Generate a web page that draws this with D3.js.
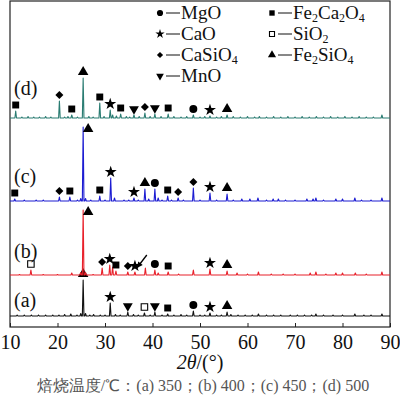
<!DOCTYPE html>
<html>
<head>
<meta charset="utf-8">
<script src="https://cdn.jsdelivr.net/npm/d3@7"></script>
<style>
  body { margin: 0; background: #fff; }
  svg { display: block; }
  text { font-family: "Liberation Serif", "Times New Roman", serif; }
</style>
</head>
<body>
<svg id="chart" width="400" height="398"></svg>
<script>
// 2θ axis
const xTicks = [10, 20, 30, 40, 50, 60, 70, 80, 90];

// series (a) 350, (b) 400, (c) 450, (d) 500 : vertical offset + peaks [2θ, intensity]
const seriesNames = ["(a)", "(b)", "(c)", "(d)"];
const seriesColors = ["#111111", "#e8202a", "#1c1cd2", "#2a7c72"];
const seriesOffsets = [11, 52, 126, 209];

const peaksA = [
    [11.5, 1], [13, 1], [14.5, 1], [16, 1], [17.5, 1], [19, 1], [20.3, 1], [21.5, 1.5], [22.8, 2],
    [24.1, 1], [24.9, 2.5], [25.4, 36], [25.9, 2.5], [26.8, 1], [27.6, 1.5], [29, 1], [30, 1],
    [31.1, 13], [32.2, 1.5], [33.2, 1], [34.8, 4], [36, 1.5], [37, 1], [38.3, 3], [39.5, 1],
    [40.5, 4], [42, 1], [43.2, 2], [44.5, 1], [46, 1.5], [47.2, 1], [48.6, 5], [50, 1], [51, 1],
    [52.1, 3], [53.5, 1], [54.5, 1], [55.7, 4], [56.5, 1.5], [58, 1], [59.5, 1], [61, 1],
    [62.3, 2], [64, 1], [65.5, 1], [67, 1], [69, 1], [70.5, 1], [72, 1], [73.5, 1], [74.4, 2],
    [76, 1], [78, 1], [80, 1], [82.6, 2], [84.5, 1], [86, 1], [88.3, 2]
];
const peaksB = [
    [12, 0.5], [14.4, 5], [17, 0.5], [20, 0.5], [23, 2], [24.9, 2.5], [25.4, 65], [25.9, 2.5],
    [27.5, 0.5], [29.4, 7], [31.0, 10], [31.6, 8], [32.3, 4], [34.8, 3], [36.3, 3], [38.5, 7],
    [40.5, 5], [41.2, 2], [43.3, 3], [45.5, 1], [48.6, 5], [52.1, 6], [55.7, 4], [57.8, 2],
    [60, 1], [62.3, 3], [65, 1], [67.5, 1], [70, 1], [73.2, 2], [74.4, 3], [76.5, 1], [78.6, 2],
    [80, 2], [82.7, 2], [85, 1], [88.3, 3]
];
const peaksC = [
    [11, 2], [13, 1], [15.5, 1], [17, 1], [20.4, 4], [22.6, 4], [24.2, 1], [24.9, 2.5],
    [25.4, 74], [25.9, 2.5], [27, 1], [28.9, 5], [30, 1], [31.2, 23], [32, 3], [34, 1],
    [35, 1], [36.1, 3], [37, 1], [38.4, 12], [39.2, 2], [40.5, 12], [41.2, 3], [42, 1],
    [43.2, 5], [44, 1], [45.4, 3], [46.5, 1], [48.6, 13], [50, 1], [52.1, 8], [53.5, 1],
    [55.7, 7], [57, 1], [58.8, 2], [60.5, 2], [62.2, 3], [64, 1], [65.4, 2], [66.5, 2],
    [68, 1], [70, 1], [72.5, 2], [73.8, 2], [74.4, 3], [76, 1], [78.6, 2], [80, 2],
    [82.6, 3], [84, 1], [86, 1], [88.3, 3]
];
const peaksD = [
    [11.2, 7], [12.5, 1], [13.8, 1.5], [15, 1], [16.2, 1], [17.5, 1.5], [18.6, 1], [20.4, 17],
    [21.5, 1], [22.2, 1.5], [23, 3], [24.2, 1], [25.4, 40], [26.6, 1.5], [27.5, 1], [28.9, 15],
    [29.8, 1.5], [31.1, 8], [31.6, 3], [32.4, 2], [33.3, 4], [34.5, 1.5], [35.2, 1], [36.1, 3],
    [37.2, 1.5], [38.4, 5], [39.5, 1.5], [40.5, 4], [41.8, 1.5], [43.3, 4], [44.5, 1.5],
    [46, 1], [47.2, 1.5], [48.6, 3], [50, 1], [51, 1.5], [52.1, 2], [53.5, 1], [54.5, 1.5],
    [55.7, 3], [57, 1.5], [58.5, 1], [60, 1.5], [61.5, 1], [62.5, 1.5], [64, 1], [65.5, 1.5],
    [67, 1], [68.5, 1.5], [70, 1], [71.5, 1.5], [73, 1], [74.5, 1.5], [76, 1], [77.5, 1.5],
    [79, 1], [80.5, 1.5], [82, 1], [83.5, 1.5], [85, 1], [86.5, 1], [88.3, 3]
];
const seriesPeaks = [peaksA, peaksB, peaksC, peaksD];

// phase markers [2θ, phase, placement]
const markersA = [
    [25.4, "Fe2SiO4"], [31.1, "CaO"], [34.8, "MnO"], [38.3, "SiO2"], [40.5, "MnO"],
    [43.2, "Fe2Ca2O4"], [48.6, "MgO"], [52.1, "CaO"], [55.7, "Fe2SiO4"]
];
const markersB = [
    [14.4, "SiO2"], [25.4, "Fe2SiO4", "side"], [29.4, "CaSiO4"], [31.0, "CaO"], [32.3, "Fe2Ca2O4"],
    [34.8, "CaSiO4"], [36.3, "CaO"], [40.5, "MgO"], [43.3, "Fe2Ca2O4"], [52.1, "CaO"],
    [55.7, "Fe2SiO4"]
];
const markersC = [
    [11, "Fe2Ca2O4"], [20.4, "CaSiO4"], [22.6, "Fe2Ca2O4"], [25.4, "Fe2SiO4", "side"],
    [28.9, "Fe2Ca2O4"], [31.2, "CaO"], [36.1, "CaO"], [38.4, "Fe2SiO4"], [40.5, "MgO"],
    [43.2, "Fe2Ca2O4"], [45.4, "CaSiO4"], [48.6, "CaSiO4"], [52.1, "CaO"], [55.7, "Fe2SiO4"]
];
const markersD = [
    [11.2, "Fe2Ca2O4"], [20.4, "CaSiO4"], [23, "Fe2Ca2O4"], [25.4, "Fe2SiO4"], [28.9, "Fe2Ca2O4"],
    [31.1, "CaO"], [33.3, "Fe2Ca2O4"], [36.1, "MnO"], [38.4, "CaSiO4"], [40.5, "MnO"],
    [43.3, "Fe2Ca2O4"], [48.6, "MgO"], [52.1, "CaO"], [55.7, "Fe2SiO4"]
];
const seriesMarkers = [markersA, markersB, markersC, markersD];

// arrow in (b): [2θ, intensity] tail -> head
const arrowB = [[38.8, 20], [36.7, 7]];

// legend: [phase, text parts], a number part is drawn as subscript
const legendCol1 = [["MgO", ["MgO"]], ["CaO", ["CaO"]], ["CaSiO4", ["CaSiO", 4]], ["MnO", ["MnO"]]];
const legendCol2 = [["Fe2Ca2O4", ["Fe", 2, "Ca", 2, "O", 4]], ["SiO2", ["SiO", 2]], ["Fe2SiO4", ["Fe", 2, "SiO", 4]]];

const caption = "焙烧温度/℃：(a) 350；(b) 400；(c) 450；(d) 500";

/***
 * Canvas setup
 */
const svg = d3.select("#chart");
const frame = { left: 10, right: 390, top: 1, bottom: 327 };

const x = d3.scaleLinear().domain([10, 90]).range([frame.left, frame.right]);
const y = d3.scaleLinear().domain([0, 326]).range([frame.bottom, frame.top]);

const symbolOf = {
    MgO: { type: d3.symbolCircle, size: 50, fill: true, rot: 0 },
    CaO: { type: d3.symbolStar, size: 45, fill: true, rot: 0 },
    CaSiO4: { type: d3.symbolSquare, size: 32, fill: true, rot: 45 },
    MnO: { type: d3.symbolTriangle, size: 42, fill: true, rot: 180 },
    Fe2Ca2O4: { type: d3.symbolSquare, size: 48, fill: true, rot: 0 },
    SiO2: { type: d3.symbolSquare, size: 42, fill: false, rot: 0 },
    Fe2SiO4: { type: d3.symbolTriangle, size: 48, fill: true, rot: 0 }
};

function drawSymbol(g, name, cx, cy, scale) {
    const s = symbolOf[name];
    g.append("path")
        .attr("d", d3.symbol().type(s.type).size(s.size * scale)())
        .attr("transform", `translate(${cx},${cy}) rotate(${s.rot})`)
        .attr("fill", s.fill ? "#000" : "#fff")
        .attr("stroke", "#000")
        .attr("stroke-width", s.fill ? 0 : 1.1);
}

// frame
svg.append("rect")
    .attr("x", frame.left).attr("y", frame.top)
    .attr("width", frame.right - frame.left).attr("height", frame.bottom - frame.top)
    .attr("fill", "none").attr("stroke", "#222").attr("stroke-width", 1.2);

// x axis, inward ticks
const axis = svg.append("g")
    .attr("transform", `translate(0,${frame.bottom})`)
    .call(d3.axisBottom(x).tickValues(xTicks).tickSizeInner(-4).tickSizeOuter(0).tickPadding(8));
axis.select(".domain").remove();
axis.selectAll(".tick line").attr("stroke", "#222");
axis.selectAll(".tick text")
    .attr("font-size", 20)
    .attr("font-family", "Liberation Serif, serif")
    .attr("fill", "#111");

// traces
const halfWidth = 0.17;
const line = d3.line().x(d => x(d[0])).y(d => y(d[1]));

seriesPeaks.forEach((peaks, i) => {
    const off = seriesOffsets[i];
    const sorted = peaks.slice().sort((a, b) => a[0] - b[0]);
    const pts = [[10, off]];
    sorted.forEach(p => {
        pts.push([p[0] - halfWidth, off]);
        pts.push([p[0], off + p[1]]);
        pts.push([p[0] + halfWidth, off]);
    });
    pts.push([90, off]);
    svg.append("path")
        .attr("d", line(pts))
        .attr("fill", "none")
        .attr("stroke", seriesColors[i])
        .attr("stroke-width", 1.1)
        .attr("stroke-linejoin", "round");

    // markers
    const mg = svg.append("g");
    seriesMarkers[i].forEach(m => {
        const near = sorted.filter(p => Math.abs(p[0] - m[0]) < 0.35)
            .reduce((a, b) => (b[1] > a ? b[1] : a), 0);
        const top = y(off + near);
        if (m[2] === "side") {
            drawSymbol(mg, m[1], x(m[0]) + 5, top + 2, 1);
        } else {
            drawSymbol(mg, m[1], x(m[0]), top - 6, 1);
        }
    });

    // series label
    svg.append("text")
        .attr("x", 14)
        .attr("y", y(off) - [9, 17, 18, 23][i])
        .attr("font-size", 20)
        .attr("fill", "#111")
        .text(seriesNames[i]);
});

// arrow in (b)
const offB = seriesOffsets[1];
const ax1 = x(arrowB[0][0]), ay1 = y(offB + arrowB[0][1]);
const ax2 = x(arrowB[1][0]), ay2 = y(offB + arrowB[1][1]);
svg.append("line")
    .attr("x1", ax1).attr("y1", ay1).attr("x2", ax2).attr("y2", ay2)
    .attr("stroke", "#000").attr("stroke-width", 1.3);
const ang = Math.atan2(ay2 - ay1, ax2 - ax1) * 180 / Math.PI;
svg.append("path")
    .attr("d", "M0,0 L-6,-2.8 L-6,2.8 Z")
    .attr("transform", `translate(${ax2},${ay2}) rotate(${ang})`)
    .attr("fill", "#000");

// legend
const legend = svg.append("g").attr("font-size", 19).attr("fill", "#111");
function legendRow(i, sx, name, parts) {
    const base = 19 + i * 21;
    drawSymbol(legend, name, sx, base - 6, 0.6);
    legend.append("line")
        .attr("x1", sx + 6).attr("x2", sx + 20)
        .attr("y1", base - 6).attr("y2", base - 6)
        .attr("stroke", "#111").attr("stroke-width", 1);
    const t = legend.append("text").attr("x", sx + 21).attr("y", base);
    parts.forEach(part => {
        if (typeof part === "number") {
            t.append("tspan").attr("font-size", 12).attr("baseline-shift", -3).text(part);
        } else {
            t.append("tspan").text(part);
        }
    });
}
legendCol1.forEach((d, i) => legendRow(i, 160, d[0], d[1]));
legendCol2.forEach((d, i) => legendRow(i, 272, d[0], d[1]));

// axis title
const title = svg.append("text")
    .attr("x", 200).attr("y", 369)
    .attr("text-anchor", "middle")
    .attr("font-size", 20)
    .attr("fill", "#111");
title.append("tspan").attr("font-style", "italic").text("2θ");
title.append("tspan").text("/(°)");

// caption
svg.append("text")
    .attr("x", 203).attr("y", 391)
    .attr("text-anchor", "middle")
    .attr("font-size", 16)
    .attr("font-family", "Liberation Serif, 'Noto Sans CJK SC', serif")
    .attr("fill", "#555")
    .text(caption);
</script>
</body>
</html>
